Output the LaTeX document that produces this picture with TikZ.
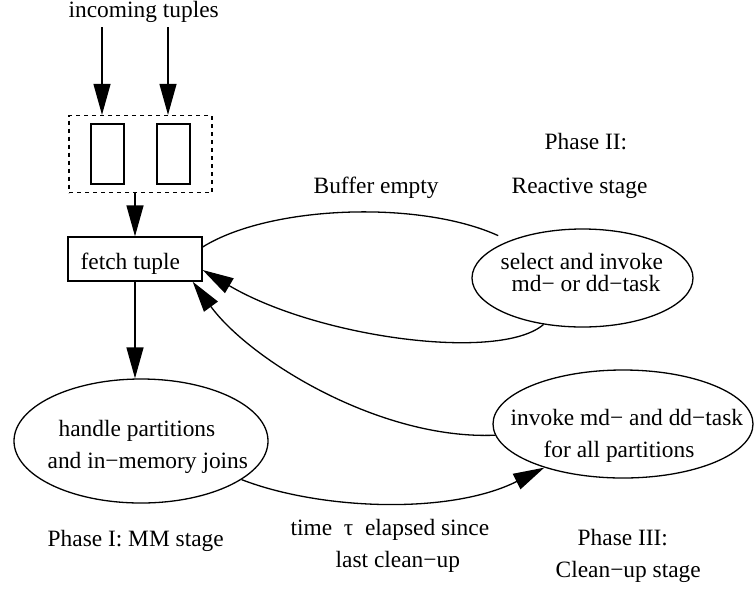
\documentclass[tikz,border=0pt]{standalone}
\usepackage{fontspec}
\setmainfont{Liberation Serif}
\usetikzlibrary{shapes.geometric,arrows.meta}
\tikzset{
  lbl/.style={anchor=base west, inner sep=0pt, font=\fontsize{23.4}{28}\selectfont},
  proc/.style={draw, ellipse, inner sep=0pt},
  box/.style={draw, rectangle, inner sep=0pt},
  arr/.style={-{Triangle[length=31pt,width=17pt]}},
}
\begin{document}
\begin{tikzpicture}[x=1pt, y=-1pt, line width=1.3pt]
\useasboundingbox (0,0) rectangle (754,590);

% input buffer with its two slots
\node[box, dash pattern=on 4pt off 4pt, minimum width=143pt, minimum height=77pt] (buf) at (140.5,154) {};
\node[box, minimum width=33pt, minimum height=60pt] (slotA) at (107.5,154) {};
\node[box, minimum width=33pt, minimum height=60pt] (slotB) at (173.5,154) {};
\coordinate (inA) at (102,27);
\coordinate (inB) at (168,27);

% fetch step and the three stages
\node[box, minimum width=134pt, minimum height=44pt] (fetch) at (135,259) {};
\node[proc, minimum width=254pt, minimum height=124pt] (mm) at (141,441) {};
\node[proc, minimum width=221pt, minimum height=98pt] (react) at (582.5,278) {};
\node[proc, minimum width=260pt, minimum height=108pt] (clean) at (623,424) {};

% texts
\node[lbl] (tIn) at (68,17.5) {incoming tuples};
\node[lbl] (tFetch) at (80,269) {fetch tuple};
\node[lbl] (tP2) at (544,149) {Phase II:};
\node[lbl] (tBuf) at (313,193) {Buffer empty};
\node[lbl] (tReact) at (511,193) {Reactive stage};
\node[lbl] (tSel1) at (500,269) {select and invoke};
\node[lbl] (tSel2) at (511,291) {md− or dd−task};
\node[lbl] (tMM1) at (58,436) {handle partitions};
\node[lbl] (tMM2) at (47,468) {and in−memory joins};
\node[lbl] (tCl1) at (510,425) {invoke md− and dd−task};
\node[lbl] (tCl2) at (543,457) {for all partitions};
\node[lbl] (tP1) at (47,546) {Phase I: MM stage};
\node[lbl] (tTime1) at (290,535) {time \ τ \ elapsed since};
\node[lbl] (tTime2) at (335,567) {last clean−up};
\node[lbl] (tP3) at (577,545) {Phase III:};
\node[lbl] (tP3b) at (555,577) {Clean−up stage};

% connectors
\draw[arr] (inA) -- (inA |- buf.north);
\draw[arr] (inB) -- (inB |- buf.north);
\draw[arr] (buf.south -| fetch.north) -- (fetch.north);
\draw[arr] (fetch.south) -- (mm.north -| fetch.south);
\draw ([yshift=12pt]fetch.east) .. controls (270,205) and (420,200) .. ([yshift=10pt]react.159);
\draw[arr] (react.-130) .. controls (500,362) and (318,338) .. ([yshift=-11pt]fetch.east);
\draw[arr] (clean.185.6) .. controls (380,440) and (250,360) .. ([xshift=-10pt]fetch.south east);
\draw[arr] (mm.-21) .. controls (320,510) and (450,515) .. (clean.-151);
\end{tikzpicture}
\end{document}
